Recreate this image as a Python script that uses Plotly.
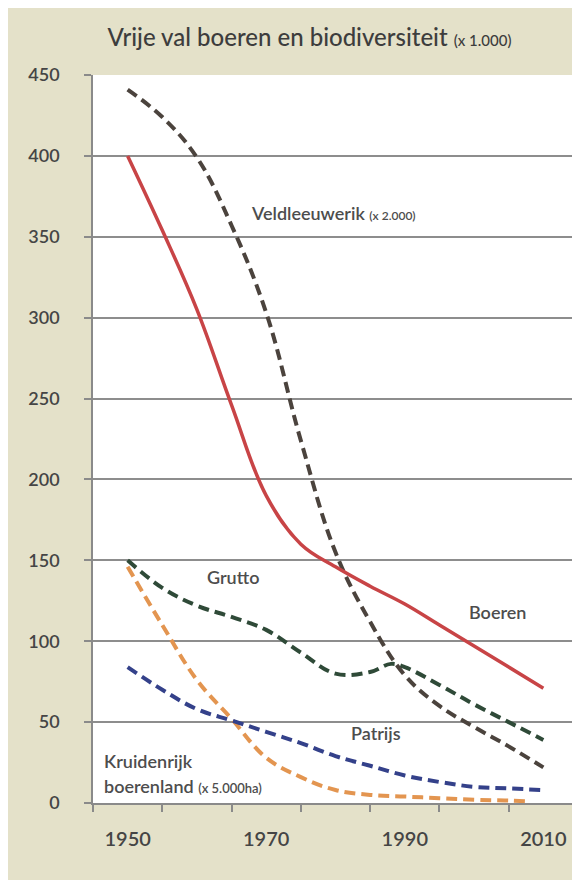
import plotly.graph_objects as go

# ---- data (values x 1.000 unless noted) ----
boeren_years = [1950, 1955, 1960, 1965, 1970, 1975, 1980, 1985, 1990, 1995, 2000, 2005, 2010]
boeren_vals = [400, 354, 305, 246, 190, 160, 146, 134, 123, 110, 97, 84, 71]

veld_years = [1950, 1955, 1960, 1965, 1970, 1975, 1980, 1985, 1990, 1995, 2000, 2005, 2010]
veld_vals = [441, 424, 399, 357, 303, 224, 155, 112, 79, 60, 47, 35, 22]

grutto_years = [1950, 1955, 1960, 1965, 1970, 1975, 1980, 1985, 1988, 1990, 1995, 2000, 2005, 2010]
grutto_vals = [150, 133, 122, 115, 107, 93, 80, 81, 86, 84, 73, 61, 50, 39]

patrijs_years = [1950, 1955, 1960, 1965, 1970, 1975, 1980, 1985, 1990, 1995, 2000, 2005, 2010]
patrijs_vals = [84, 70, 58, 51, 44, 37, 29, 23, 17, 13, 10, 9, 8]

kruiden_years = [1950, 1955, 1960, 1965, 1970, 1975, 1980, 1985, 1990, 1995, 2000, 2005, 2008]
kruiden_vals = [146, 110, 76, 52, 28, 16, 8, 5, 4, 3, 2, 1.5, 1]

x_tick_labels = [1950, 1970, 1990, 2010]
decade_edges = [1945, 1955, 1965, 1975, 1985, 1995, 2005, 2015]
y_ticks = [0, 50, 100, 150, 200, 250, 300, 350, 400, 450]

FONT = "Lato"
TXT = "#4d4d4d"

fig = go.Figure()

def add(xs, ys, color, dash, width=4):
    fig.add_trace(go.Scatter(
        x=xs, y=ys, mode="lines",
        line=dict(color=color, width=width, dash=dash, shape="spline", smoothing=1.1),
        showlegend=False, hoverinfo="skip"))

add(kruiden_years, kruiden_vals, "#e39550", "11px,6px")
add(patrijs_years, patrijs_vals, "#34418a", "11px,6px")
add(grutto_years, grutto_vals, "#2f4a38", "11px,6px")
add(veld_years, veld_vals, "#4b433d", "11px,6px")
add(boeren_years, boeren_vals, "#c84446", None, 3.5)

ann = [
    dict(x=1967.5, y=365, text="Veldleeuwerik <span style='font-size:12px'>(x 2.000)</span>", xanchor="left"),
    dict(x=1965.2, y=140, text="Grutto", xanchor="center"),
    dict(x=2003.4, y=118, text="Boeren", xanchor="center"),
    dict(x=1985.8, y=43, text="Patrijs", xanchor="center"),
    dict(x=1946.3, y=26, text="Kruidenrijk", xanchor="left"),
    dict(x=1946.3, y=10.5, text="boerenland <span style='font-size:13px'>(x 5.000ha)</span>", xanchor="left"),
]
for a in ann:
    fig.add_annotation(x=a["x"], y=a["y"], text=a["text"], xanchor=a["xanchor"], yanchor="middle",
                       showarrow=False, font=dict(family=FONT, size=18, color=TXT, weight=600))

# page body has an 8px default margin, so the figure is sized to fill the rest of the window
fig.update_layout(
    width=572, height=872,
    margin=dict(l=85, r=2, t=67, b=77),
    paper_bgcolor="#e4e1c9",
    plot_bgcolor="#ffffff",
    title=dict(text="Vrije val boeren en biodiversiteit <span style='font-size:15px'>(x 1.000)</span>",
               x=0.527, xanchor="center", y=0.9656, yanchor="middle",
               font=dict(family=FONT, size=24, color="#3d3d3d", weight=500)),
    xaxis=dict(range=[1945, 2015], tickvals=x_tick_labels, ticks="", showgrid=False,
               showline=True, linecolor="#8a8a8a", linewidth=1.5, zeroline=False, automargin=False,
               tickfont=dict(family=FONT, size=20, color="#454545", weight=600), ticklabelstandoff=17,
               minor=dict(tickvals=decade_edges, ticks="outside", ticklen=7, tickcolor="#8a8a8a",
                          tickwidth=1.5, showgrid=False)),
    yaxis=dict(range=[0, 450], tickvals=y_ticks, ticks="outside", ticklen=7, tickcolor="#8a8a8a",
               tickwidth=1.5, showgrid=True, gridcolor="#8d8d8d", gridwidth=1.5, automargin=False,
               showline=True, linecolor="#8a8a8a", linewidth=1.5, zeroline=False,
               tickfont=dict(family=FONT, size=18, color="#454545", weight=600), ticklabelstandoff=21),
)

fig.write_html("out.html")
